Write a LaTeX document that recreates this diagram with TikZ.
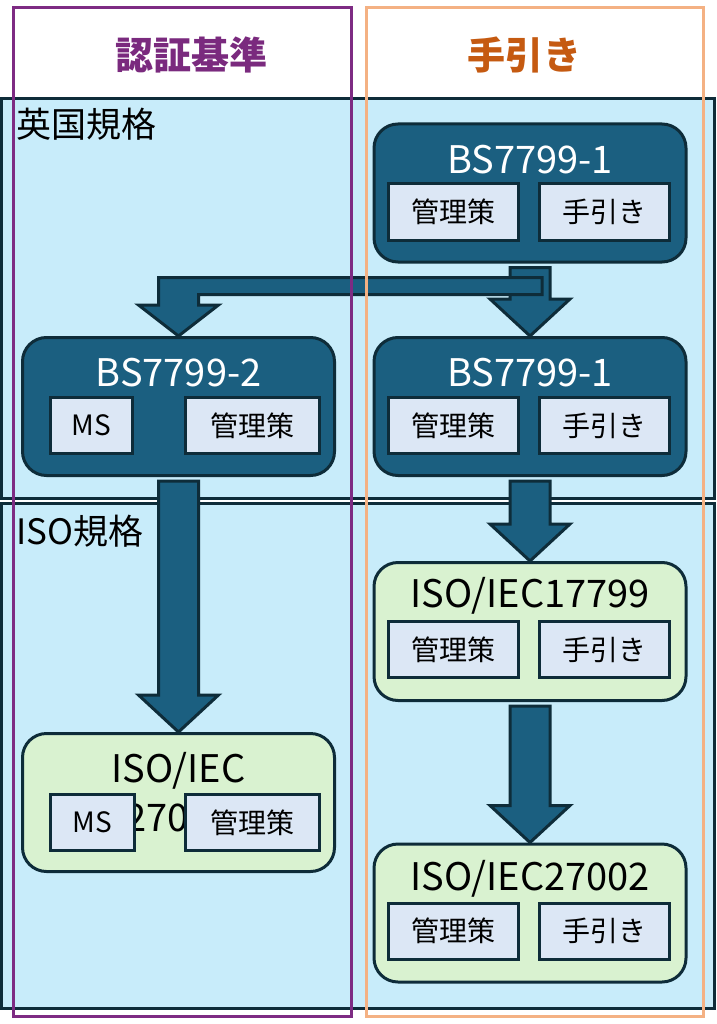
\documentclass[tikz,border=0pt]{standalone}
\usepackage{fontspec}
\setmainfont{Noto Sans CJK JP}
\usetikzlibrary{positioning, calc}
\definecolor{panelblue}{HTML}{C8ECFA}
\definecolor{edgedark}{HTML}{0E2C39}
\definecolor{boxblue}{HTML}{1B5F80}
\definecolor{subfill}{HTML}{DCE7F5}
\definecolor{greenfill}{HTML}{D9F2D0}
\definecolor{purpleline}{HTML}{7E2B83}
\definecolor{purpletext}{HTML}{7A2A7E}
\definecolor{orangeline}{HTML}{F4B183}
\definecolor{orangetext}{HTML}{C55A11}

% block arrow pointing down, from one box to the next
\newcommand{\blockdown}[2]{%
\draw[blockarrow] ($(#1.south)+(-20,4)$) -- ($(#2.north)+(-20,-37)$) -- ($(#2.north)+(-40,-37)$) -- (#2.north) -- ($(#2.north)+(40,-37)$) -- ($(#2.north)+(20,-37)$) -- ($(#1.south)+(20,4)$) -- cycle;}

\begin{document}
\begin{tikzpicture}[x=1pt, y=-1pt,
  panel/.style={draw=edgedark, line width=3pt, fill=panelblue, minimum width=713pt, inner sep=0pt},
  darkbox/.style={draw=edgedark, line width=3pt, fill=boxblue, rounded corners=24pt, minimum width=312pt, minimum height=138pt, inner sep=0pt},
  greenbox/.style={darkbox, fill=greenfill},
  title/.style={inner sep=0pt, font=\fontsize{38}{49}\selectfont, align=center},
  sub/.style={draw=edgedark, line width=3pt, fill=subfill, minimum width=130pt, minimum height=56pt, inner sep=0pt, font=\fontsize{28}{30}\selectfont},
  head/.style={inner sep=0pt, font=\fontsize{38}{40}\selectfont\bfseries},
  blockarrow/.style={draw=edgedark, line width=3pt, fill=boxblue, line join=miter}
]
\fill[white] (0,0) rectangle (716,1024);
\useasboundingbox (0,0) rectangle (716,1024);

%Headers
\node (cert) at (191,55) [head, text=purpletext] {認証基準};
\node (guide) at (524,55) [head, text=orangetext] {手引き};

%Panels
\node (uk) at (357.5,298.5) [panel, minimum height=399pt] {};
\node (iso) at (357.5,755.5) [panel, minimum height=505pt] {};
\node (ukl) [anchor=north west, inner sep=0pt, font=\fontsize{35}{36}\selectfont] at ($(uk.north west)+(17,10)$) {英国規格};
\node (isol) [anchor=north west, inner sep=0pt, font=\fontsize{35}{36}\selectfont] at ($(iso.north west)+(17,13)$) {ISO規格};

%British standards
\node (bs1a) at (530,193) [darkbox] {};
\node (bs1at) at ($(bs1a.north)+(0,37)$) [title, text=white] {BS7799-1};
\node (bs1am) [sub, below right=60pt and 14pt of bs1a.north west] {管理策};
\node (bs1ag) [sub, right=18pt of bs1am] {手引き};

\node (bs2) at (178.5,406.5) [darkbox] {};
\node (bs2t) at ($(bs2.north)+(0,37)$) [title, text=white] {BS7799-2};
\node (bs2ms) [sub, minimum width=82pt, below right=60pt and 28pt of bs2.north west] {MS};
\node (bs2m) [sub, minimum width=134pt, right=50pt of bs2ms] {管理策};

\node (bs1b) at (530,406.5) [darkbox] {};
\node (bs1bt) at ($(bs1b.north)+(0,37)$) [title, text=white] {BS7799-1};
\node (bs1bm) [sub, below right=60pt and 14pt of bs1b.north west] {管理策};
\node (bs1bg) [sub, right=18pt of bs1bm] {手引き};

%ISO standards
\node (iso17) at (530,631.5) [greenbox] {};
\node (iso17t) at ($(iso17.north)+(0,35)$) [title] {ISO/IEC17799};
\node (iso17m) [sub, below right=59pt and 14pt of iso17.north west] {管理策};
\node (iso17g) [sub, right=18pt of iso17m] {手引き};

\node (iso27002) at (530,913) [greenbox] {};
\node (iso27002t) at ($(iso27002.north)+(0,36)$) [title] {ISO/IEC27002};
\node (iso27002m) [sub, below right=59pt and 14pt of iso27002.north west] {管理策};
\node (iso27002g) [sub, right=18pt of iso27002m] {手引き};

\node (iso27001) at (178.5,802.5) [greenbox] {};
\node (iso27001t) at ($(iso27001.north)+(0,60)$) [title] {ISO/IEC\\27001};
\node (iso27001ms) [sub, minimum width=84pt, below right=61pt and 28pt of iso27001.north west] {MS};
\node (iso27001m) [sub, minimum width=134pt, right=48pt of iso27001ms] {管理策};

%Arrows
\blockdown{bs1a}{bs1b}
\coordinate (bartop) at ($(bs1a.south)+(12,14)$);
\coordinate (barbot) at ($(bs1a.south)+(12,31)$);
\coordinate (lsl) at ($(bs2.north)+(-20,0)$);
\coordinate (lsr) at ($(bs2.north)+(20,0)$);
\draw[blockarrow] (barbot) -- (bartop) -- (bartop -| lsl) -- ($(lsl)+(0,-31)$) -- ($(bs2.north)+(-40,-31)$) -- (bs2.north) -- ($(bs2.north)+(40,-31)$) -- ($(lsr)+(0,-31)$) -- (barbot -| lsr) -- cycle;
\blockdown{bs2}{iso27001}
\blockdown{bs1b}{iso17}
\blockdown{iso17}{iso27002}

%Columns
\draw[purpleline, line width=3pt] (13,8) rectangle (351,1016);
\draw[orangeline, line width=3pt] (366,8) rectangle (703,1016);
\end{tikzpicture}
\end{document}
